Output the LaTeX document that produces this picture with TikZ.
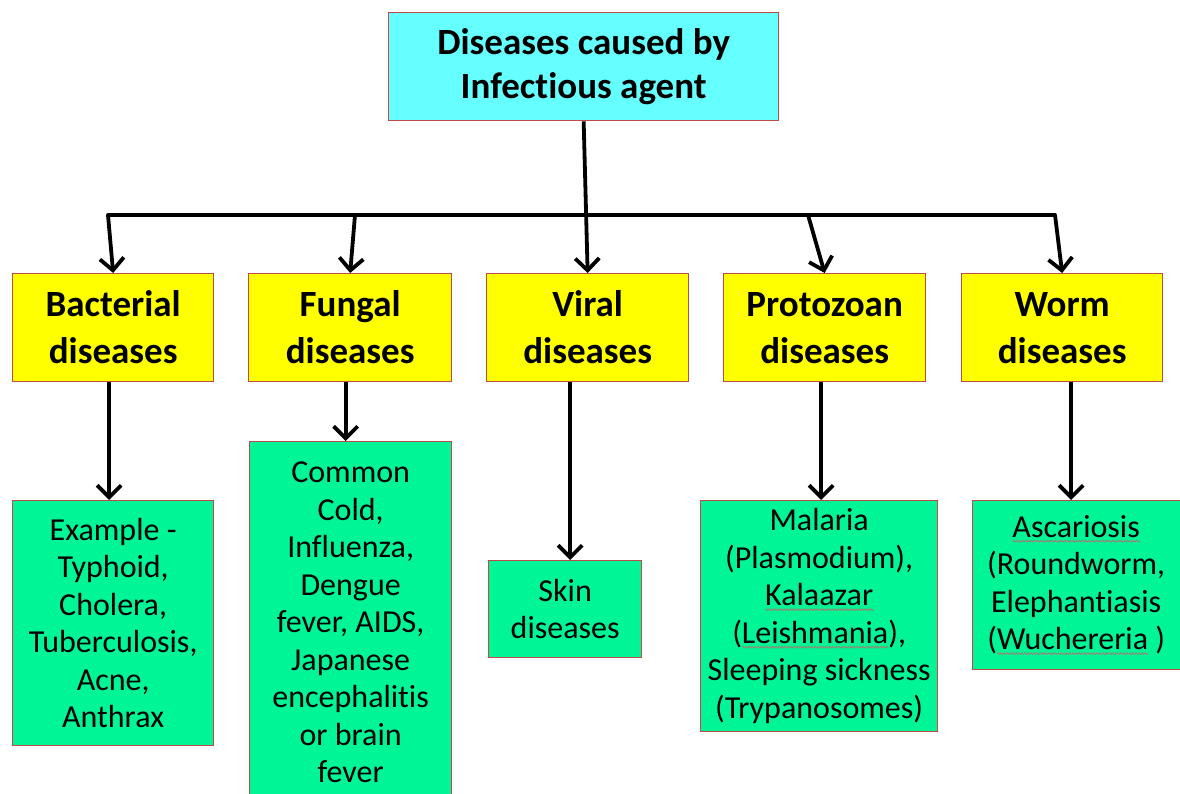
\documentclass[tikz,border=0pt]{standalone}
\usepackage{fontspec}
\setmainfont{Carlito}[Ligatures={NoCommon}]
\usetikzlibrary{arrows.meta,decorations.pathmorphing}
\definecolor{topc}{RGB}{102,255,255}
\definecolor{yelc}{RGB}{255,255,0}
\definecolor{grnc}{RGB}{0,245,150}
\definecolor{brd}{RGB}{190,75,72}
\definecolor{wavec}{RGB}{170,120,110}
\newsavebox\sqbox
\newlength\sqlen
\newcommand\sqw[1]{\sbox\sqbox{#1}\setlength\sqlen{\wd\sqbox}\rlap{\raisebox{-5pt}{\tikz\draw[wavec, line width=0.7pt, decorate, decoration={zigzag, amplitude=0.9pt, segment length=3pt}] (0pt,0pt) -- (\sqlen,0pt);}}\usebox\sqbox}
\tikzset{
  box/.style={draw=brd, line width=1.3pt, anchor=north west, inner sep=0pt, align=center},
  topbox/.style={box, fill=topc, font=\fontsize{37}{44}\selectfont\bfseries},
  headbox/.style={box, fill=yelc, font=\fontsize{37}{47}\selectfont\bfseries},
  leafbox/.style={box, fill=grnc, font=\fontsize{32}{37.5}\selectfont},
  arr/.style={line width=3.8pt, -{Straight Barb[length=12pt,width=24pt,line width=3.8pt]}, line join=round},
  bus/.style={line width=3.8pt, line cap=round}
}
\begin{document}
\begin{tikzpicture}[x=1pt,y=-1pt]
\useasboundingbox (0,0) rectangle (1180,794);
% top
\node[topbox, minimum width=390pt, minimum height=108pt] (top) at (388,12) {Diseases caused by\\Infectious agent};
% headings
\node[headbox, minimum width=201pt, minimum height=108pt] (b) at (12,273) {Bacterial\\diseases};
\node[headbox, minimum width=203pt, minimum height=108pt] (f) at (248,273) {Fungal\\diseases};
\node[headbox, minimum width=202pt, minimum height=108pt] (v) at (486,273) {Viral\\diseases};
\node[headbox, minimum width=202pt, minimum height=108pt] (p) at (723,273) {Protozoan\\diseases};
\node[headbox, minimum width=201pt, minimum height=108pt] (w) at (961,273) {Worm\\diseases};
% leaves
\node[leafbox, minimum width=201pt, minimum height=245pt] (bg) at (12,500) {Example -\\Typhoid,\\Cholera,\\Tuberculosis,\\Acne,\\Anthrax};
\node[leafbox, minimum width=202pt, minimum height=362pt] (fg) at (249,441) {Common\\Cold,\\Influenza,\\Dengue\\fever, AIDS,\\Japanese\\encephalitis\\or brain\\fever};
\node[leafbox, minimum width=153pt, minimum height=97pt] (vg) at (488,560) {Skin\\diseases};
\node[leafbox, minimum width=237pt, minimum height=231pt] (pg) at (700,500) {Malaria\\(Plasmodium),\\\sqw{Kalaazar}\\(\sqw{Leishmania}),\\Sleeping sickness\\(Trypanosomes)};
\node[leafbox, minimum width=215pt, minimum height=169pt] (wg) at (972,500) {\hspace*{-8pt}\sqw{Ascariosis}\\\hspace*{-8pt}(Roundworm,\\\hspace*{-8pt}Elephantiasis\\\hspace*{-8pt}(\sqw{Wuchereria} )};
% bus
\coordinate (j1) at (108,215);
\coordinate (j2) at (355,215);
\coordinate (j4) at (808,215);
\coordinate (j5) at (1055,215);
\draw[bus] (j1) -- (j5);
\draw[arr] (j1) -- (b.north);
\draw[arr] (j2) -- (f.north);
\draw[arr] (top.south) -- (v.north);
\draw[arr] (j4) -- (p.north);
\draw[arr] (j5) -- (w.north);
% down arrows
\draw[arr] ([xshift=-4pt]b.south) -- ([xshift=-4pt]bg.north);
\draw[arr] ([xshift=-5pt]fg.north |- f.south) -- ([xshift=-5pt]fg.north);
\draw[arr] ([xshift=5pt]vg.north |- v.south) -- ([xshift=5pt]vg.north);
\draw[arr] ([xshift=2pt]pg.north |- p.south) -- ([xshift=2pt]pg.north);
\draw[arr] ([xshift=-9pt]wg.north |- w.south) -- ([xshift=-9pt]wg.north);
\end{tikzpicture}
\end{document}
